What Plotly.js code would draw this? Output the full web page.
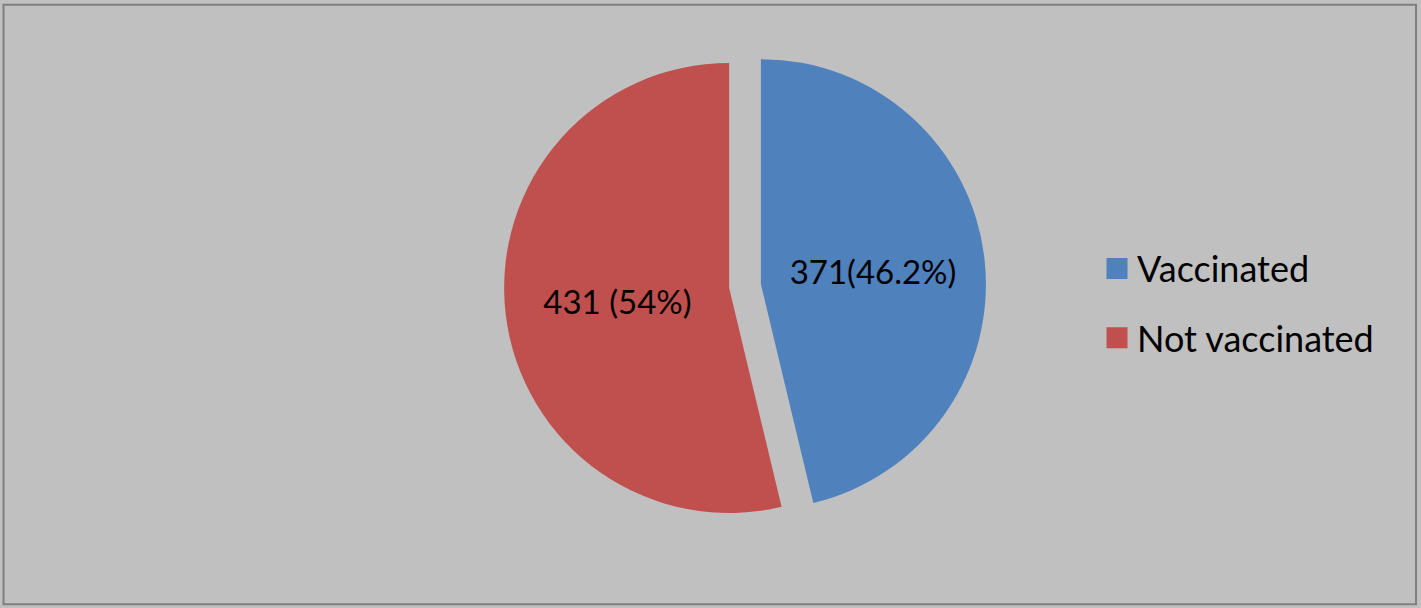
<!DOCTYPE html>
<html>
<head>
<meta charset="utf-8">
<script src="https://cdn.plot.ly/plotly-3.0.1.min.js"></script>
<style>html,body{margin:0;padding:0;background:#c0c0c0;}#chart{width:1421px;height:608px;}</style>
</head>
<body>
<div id="chart"></div>
<script>
const categories = ["Vaccinated", "Not vaccinated"];
const counts = [371, 431];
const sliceLabels = ["371(46.2%)", "431 (54%)"];
const sliceColors = ["#4f81bd", "#c0504d"];

// legend labels: larger line box (from legend font) with normal-size visible text
const legendLabels = categories.map(c => '<span style="font-size:36px">' + c + '</span>');

const trace = {
  type: "pie",
  labels: legendLabels,
  values: counts,
  text: sliceLabels,
  textinfo: "text",
  textposition: "inside",
  insidetextorientation: "horizontal",
  sort: false,
  direction: "clockwise",
  rotation: 0,
  pull: [0.071, 0.071],
  marker: { colors: sliceColors, line: { width: 0 } },
  textfont: { family: "Lato, 'Open Sans', sans-serif", size: 33, color: "#000000" },
  hoverinfo: "none",
  domain: { x: [0.3547, 0.6939], y: [0.133, 0.926] }
};

const layout = {
  width: 1421,
  height: 608,
  margin: { l: 0, r: 0, t: 0, b: 0 },
  paper_bgcolor: "#c0c0c0",
  plot_bgcolor: "#c0c0c0",
  showlegend: true,
  legend: {
    x: 0.772, xanchor: "left",
    y: 0.511, yanchor: "middle",
    bgcolor: "rgba(0,0,0,0)",
    font: { family: "Lato, 'Open Sans', sans-serif", size: 51, color: "#000000" },
    itemclick: false
  },
  shapes: [{
    type: "rect", xref: "paper", yref: "paper",
    x0: 0.0025, x1: 0.9965, y0: 0.006, y1: 0.992,
    line: { color: "#7f7f7f", width: 2 }
  }]
};

Plotly.newPlot("chart", [trace], layout, { displayModeBar: false, staticPlot: true }).then(gd => {
  // enlarge the legend swatches to match the reference's square markers
  gd.querySelectorAll(".legendpoints path").forEach(p => {
    p.setAttribute("d", "M10.5,10.5H-10.5V-10.5H10.5Z");
    p.setAttribute("transform", "translate(20,6)");
  });
});
</script>
</body>
</html>
